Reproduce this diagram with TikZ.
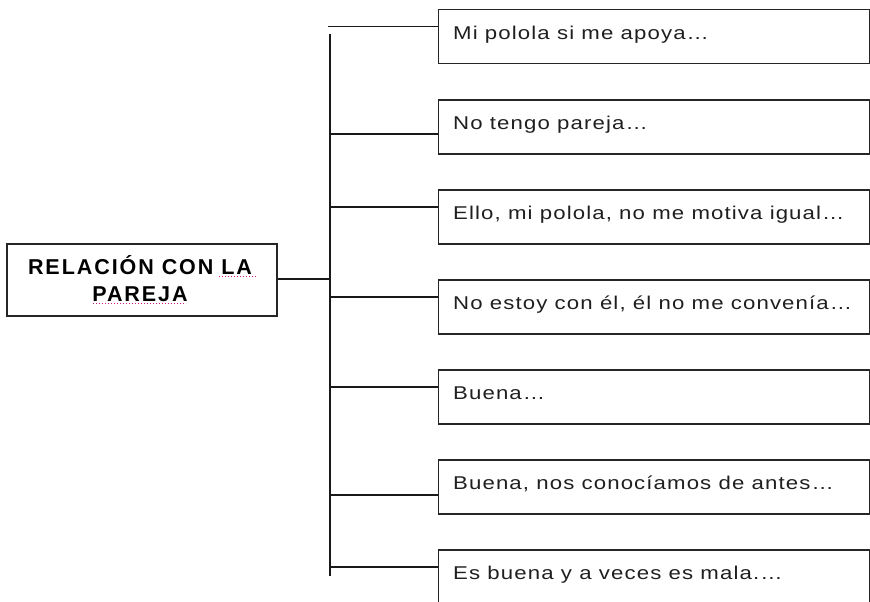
\documentclass[tikz,border=0pt]{standalone}
\usepackage{fontspec}
\usetikzlibrary{calc}
\setmainfont{Liberation Sans}
\newfontfamily\boxfont[FakeStretch=1.2,LetterSpace=6]{Liberation Sans}
\newfontfamily\titlefont[LetterSpace=9]{Liberation Sans}
\begin{document}
\begin{tikzpicture}[x=1pt,y=-1pt,
  conn/.style={line width=1.5pt,draw=black!90},
  boxst/.style={draw=black!85,line width=1.5pt,rectangle,minimum width=431.5pt,minimum height=54pt,anchor=north west,inner sep=0pt},
  txt/.style={anchor=base west,inner sep=0pt,text=black!88,font=\boxfont\fontsize{18.5}{22}\selectfont},
  ttl/.style={anchor=base,inner sep=0pt,font=\titlefont\bfseries\fontsize{21.5}{24}\selectfont},
  squig/.style={draw=magenta!80!violet,line width=1pt,dotted}]
\useasboundingbox (0,0) rectangle (870,602);
\clip (0,0) rectangle (870,602);
% left box
\node[draw=black!85,line width=1.5pt,rectangle,minimum width=270pt,minimum height=72pt,anchor=north west,inner sep=0pt] (root) at (6,243) {};
\node[ttl] (r1) at (140,274) {RELACIÓN CON LA};
\node[ttl] (r2) at (140,301) {PAREJA};
\draw[squig] (219,276.5) -- (257,276.5);
\draw[squig] (93,303) -- (186,303);
% right boxes
\foreach \i/\t in {1/9,2/99,3/189,4/279,5/369,6/459,7/549}{
  \node[boxst] (b\i) at (437.5,\t) {};
}
\node[txt] (t1) at ($(b1.north west)+(15.5,30.5)$) {Mi polola si me apoya…};
\node[txt] (t2) at ($(b2.north west)+(15.5,30.5)$) {No tengo pareja…};
\node[txt] (t3) at ($(b3.north west)+(15.5,30.5)$) {Ello, mi polola, no me motiva igual…};
\node[txt] (t4) at ($(b4.north west)+(15.5,30.5)$) {No estoy con él, él no me convenía…};
\node[txt] (t5) at ($(b5.north west)+(15.5,30.5)$) {Buena…};
\node[txt] (t6) at ($(b6.north west)+(15.5,30.5)$) {Buena, nos conocíamos de antes…};
\node[txt] (t7) at ($(b7.north west)+(15.5,30.5)$) {Es buena y a veces es mala.…};
% trunk
\coordinate (vtop) at (330,34);
\coordinate (vbot) at (330,576);
\draw[conn] (vtop) -- (vbot);
\draw[conn] (root.east |- 0,279) -- (330,279);
\draw[conn] (328,26.5) -- (b1.west |- 0,26.5);
\draw[conn] (330,134) -- (b2.west |- 0,134);
\draw[conn] (330,207) -- (b3.west |- 0,207);
\draw[conn] (330,297) -- (b4.west |- 0,297);
\draw[conn] (330,387) -- (b5.west |- 0,387);
\draw[conn] (330,495) -- (b6.west |- 0,495);
\draw[conn] (330,567) -- (b7.west |- 0,567);
\end{tikzpicture}
\end{document}
